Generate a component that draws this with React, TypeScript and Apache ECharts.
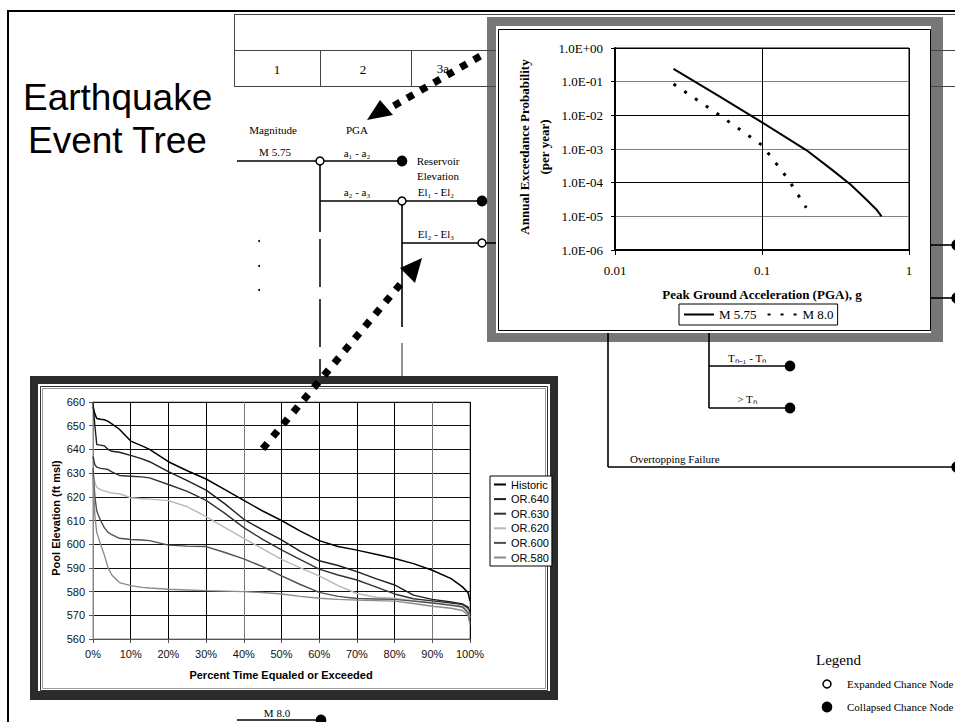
import React, { useEffect, useRef } from 'react';
import * as echarts from 'echarts';

const SERIF = '"Liberation Serif", "Times New Roman", serif';
const SANS = '"Liberation Sans", Arial, sans-serif';

// ---- Seismic hazard inset (log-log) ----
const pgaM575 = [0.025, 0.05, 0.1, 0.2, 0.3, 0.4, 0.5, 0.6, 0.65];
const aepM575 = [0.24, 0.039, 0.0062, 0.00093, 0.00024, 0.000088, 0.000035, 0.000016, 0.00001];
const pgaM80 = [0.025, 0.05, 0.1, 0.15, 0.2];
const aepM80 = [0.085, 0.011, 0.0013, 0.00013, 0.000018];
const hazardNames = ['M 5.75', 'M 8.0'];

// ---- Pool elevation duration inset ----
const pctExceeded = [0, 0.5, 1, 2, 3, 4, 5, 7, 10, 13, 15, 20, 25, 30, 35, 40, 45, 50, 55, 60, 65, 70, 75, 80, 85, 90, 95, 98, 99.5, 100];
const historic = [658, 655, 653, 652.7, 652.5, 651.8, 650.8, 648.5, 643.5, 641.5, 640, 634.8, 631, 627.5, 623, 618.5, 614, 610, 605.5, 601.5, 599, 597.5, 595.8, 594, 591.8, 589, 585.5, 582, 579.5, 576];
const or640 = [660, 650, 642, 641.8, 641.5, 640, 639.2, 638.8, 637.5, 636, 634.8, 630.6, 626.8, 622.8, 617, 610.5, 606, 601.8, 597, 593, 591, 588.4, 585.5, 582.8, 578.5, 576.7, 575.6, 574.8, 573.5, 571];
const or630 = [637, 633.5, 632.5, 632, 631.8, 631.5, 630.5, 629, 628.7, 628.4, 628, 625.2, 622.3, 618.5, 613, 607, 602, 597.6, 593.5, 589.5, 587, 584.9, 582, 579, 577, 576.1, 575.2, 574.5, 573, 570];
const or620 = [630, 626, 624, 623, 622.5, 622, 621.6, 621.3, 619.6, 619.2, 619, 618.4, 615.8, 611.6, 607, 602.5, 598, 593.6, 590, 586.6, 582.5, 579.2, 577.6, 577.2, 576.2, 575.3, 574.5, 573.8, 572, 569];
const or600 = [632, 620, 614, 610, 607, 605, 604, 602.5, 602, 601.8, 601.5, 599.6, 599.2, 599, 596.5, 593.8, 590.5, 586.6, 583, 579.7, 578, 577.1, 576.9, 576.7, 576, 575.2, 574.2, 573.5, 571, 567];
const or580 = [628, 612, 605, 600, 595.5, 590, 587, 583.8, 582.5, 581.8, 581.5, 581, 580.7, 580.4, 580.2, 580, 579.6, 579, 578, 577.2, 576.7, 576.4, 576.2, 576, 575, 573.8, 573, 572, 570, 566];
const poolNames = ['Historic', 'OR.640', 'OR.630', 'OR.620', 'OR.600', 'OR.580'];
const poolValues = [historic, or640, or630, or620, or600, or580];
const poolColors = ['#000000', '#1e1e1e', '#333333', '#b8b8b8', '#505050', '#8c8c8c'];

function ln(x1: number, y1: number, x2: number, y2: number, stroke = '#000', lineWidth = 1.6, z = 2, lineDash?: number[]) {
  return { type: 'line', z, silent: true, shape: { x1, y1, x2, y2 }, style: { stroke, lineWidth, lineDash } };
}
function node(cx: number, cy: number, filled: boolean, r?: number) {
  return {
    type: 'circle', z: 2, silent: true,
    shape: { cx, cy, r: r ?? (filled ? 4.6 : 4) },
    style: { fill: filled ? '#000' : '#fff', stroke: '#000', lineWidth: 1.5 },
  };
}
function txt(text: string, x: number, y: number, size = 11, align = 'center', family = SERIF, weight = 'normal', rotation = 0, z = 2) {
  return {
    type: 'text', z, silent: true, x, y, rotation,
    style: {
      text, fill: '#000', fontSize: size, fontFamily: family, fontWeight: weight,
      align, verticalAlign: 'middle', textAlign: align, textVerticalAlign: 'middle',
    },
  };
}
function rect(x: number, y: number, width: number, height: number, fill: string, stroke: string | null, z: number, lineWidth = 1) {
  return { type: 'rect', z, silent: true, shape: { x, y, width, height }, style: { fill, stroke: stroke ?? 'none', lineWidth } };
}
function dottedArrow(x0: number, y0: number, x1: number, y1: number, n: number, head: number[][]) {
  const els: any[] = [];
  const ang = Math.atan2(-(y1 - y0), x1 - x0);
  for (let i = 0; i < n; i++) {
    const t = i / (n - 1);
    els.push({
      type: 'rect', z: 10, silent: true,
      x: x0 + (x1 - x0) * t, y: y0 + (y1 - y0) * t, rotation: ang,
      shape: { x: -3.6, y: -3.6, width: 7.2, height: 7.2 },
      style: { fill: '#000' },
    });
  }
  els.push({ type: 'polygon', z: 10, silent: true, shape: { points: head }, style: { fill: '#000' } });
  return els;
}

function buildGraphic() {
  const g: any[] = [];
  // outer frame
  g.push(ln(7, 11, 955, 11, '#000', 2));
  g.push(ln(8, 10, 8, 722, '#000', 2));
  // table
  const tc = '#444';
  g.push(ln(234, 14.5, 955, 14.5, tc, 1));
  g.push(ln(234, 50.5, 955, 50.5, tc, 1));
  g.push(ln(234, 86.5, 955, 86.5, tc, 1));
  g.push(ln(234.5, 14, 234.5, 87, tc, 1));
  g.push(ln(320.5, 50, 320.5, 87, tc, 1));
  g.push(ln(411.5, 50, 411.5, 87, tc, 1));
  g.push(txt('1', 277, 69, 13));
  g.push(txt('2', 363, 69, 13));
  g.push(txt('3a', 443, 68, 13));
  // title
  g.push(txt('Earthquake', 23, 97, 37, 'left', SANS));
  g.push(txt('Event Tree', 28, 140, 37, 'left', SANS));
  // log inset gray band (under tree)
  g.push(rect(487, 17, 456, 325, '#777777', null, 1));
  // tree
  g.push(txt('Magnitude', 273, 130));
  g.push(txt('PGA', 357, 130));
  g.push(txt('M 5.75', 275, 152));
  g.push(ln(237, 161, 320, 161));
  g.push(ln(320, 161, 402, 161));
  g.push(txt('a₁ - a₂', 357, 153));
  g.push(txt('Reservoir', 438, 161));
  g.push(txt('Elevation', 438, 176));
  g.push(ln(320, 161, 320, 232));
  g.push(ln(320, 239, 320, 378, '#111', 1.6, 2, [48, 12]));
  g.push(ln(320, 201, 402, 201));
  g.push(txt('a₂ - a₃', 357, 192));
  g.push(ln(402, 201, 482, 201));
  g.push(txt('El₁ - El₂', 436, 192));
  g.push(ln(402, 201, 402, 327));
  g.push(ln(402, 343, 402, 380, '#777', 1.6));
  g.push(ln(402, 243, 482, 243));
  g.push(ln(486, 243, 498, 243));
  g.push(txt('El₂ - El₃', 436, 234));
  for (const dy of [241, 266, 290]) {
    g.push({ type: 'circle', z: 2, silent: true, shape: { cx: 259, cy: dy, r: 1 }, style: { fill: '#000' } });
  }
  g.push(node(320, 161, false));
  g.push(node(402, 161, true));
  g.push(node(402, 201, false));
  g.push(node(482, 201, true));
  g.push(node(482, 243, false));
  // right stubs
  g.push(ln(931, 245, 957, 245));
  g.push(ln(931, 298, 957, 298));
  g.push(node(957, 245, true, 5));
  g.push(node(957, 298, true, 5));
  // below inset
  g.push(ln(608, 330, 608, 467));
  g.push(ln(608, 467, 957, 467));
  g.push(node(957, 467, true, 5));
  g.push(txt('Overtopping Failure', 630, 459, 11, 'left'));
  g.push(ln(709, 330, 709, 408));
  g.push(ln(709, 366, 790, 366));
  g.push(ln(709, 408, 790, 408));
  g.push(node(790, 366, true));
  g.push(node(790, 408, true));
  g.push(txt('Tₙ₋₁ - Tₙ', 747, 358));
  g.push(txt('> Tₙ', 747, 399));
  // bottom branch
  g.push(txt('M 8.0', 277, 713));
  g.push(ln(237, 720, 320, 720));
  g.push(node(321, 720, true));
  // legend of tree
  g.push(txt('Legend', 816, 660, 15, 'left'));
  g.push(node(827, 684, false));
  g.push(txt('Expanded Chance Node', 847, 684, 11, 'left'));
  g.push(node(827, 707, true));
  g.push(txt('Collapsed Chance Node', 847, 707, 11, 'left'));

  // log inset white panel
  g.push(rect(496, 26, 435, 307, '#ffffff', null, 3));
  g.push(rect(498.5, 29.5, 432, 301, 'none', '#000', 3));
  g.push(txt('Annual Exceedance Probability', 524, 147, 13, 'center', SERIF, 'bold', Math.PI / 2, 3));
  g.push(txt('(per year)', 544, 147, 13, 'center', SERIF, 'bold', Math.PI / 2, 3));
  g.push(txt('Peak Ground Acceleration (PGA), g', 762, 294, 13, 'center', SERIF, 'bold', 0, 3));

  // pool inset frame
  g.push(rect(30, 376, 528, 324, '#2b2b2b', null, 3));
  g.push(rect(38, 384, 512, 307, '#ffffff', null, 3));
  g.push(rect(40.5, 386.5, 507, 304, 'none', '#333', 3));
  g.push(rect(42.5, 388.5, 503, 300, 'none', '#999', 3));
  g.push(txt('Pool Elevation (ft msl)', 56, 518, 11, 'center', SANS, 'bold', Math.PI / 2, 3));
  g.push(txt('Percent Time Equaled or Exceeded', 281, 675, 11, 'center', SANS, 'bold', 0, 3));

  // dotted arrows
  g.push(...dottedArrow(397, 104, 477, 58, 7, [[367, 120], [380, 100], [393, 115]]));
  g.push(...dottedArrow(265, 446, 398, 287, 14, [[422, 258], [400, 268], [415, 283]]));
  return g;
}

function expLabel(v: number) {
  const e = Math.round(Math.log10(v));
  return '1.0E' + (e < 0 ? '-' : '+') + String(Math.abs(e)).padStart(2, '0');
}

const hiddenSymbol = { color: 'rgba(0,0,0,0)', borderWidth: 0, borderColor: 'rgba(0,0,0,0)', opacity: 0 };

export default function App() {
  const ref = useRef<HTMLDivElement>(null);
  useEffect(() => {
    if (!ref.current) return;
    const chart = echarts.init(ref.current, undefined, { renderer: 'svg' });
    const poolSeries = poolNames.map((name, k) => ({
      type: 'line', name, xAxisIndex: 1, yAxisIndex: 1, z: 6,
      data: pctExceeded.map((p, i) => [p, poolValues[k][i]]),
      symbol: 'none', showSymbol: false,
      lineStyle: { color: poolColors[k], width: k === 0 ? 1.5 : 1.4 },
      itemStyle: { color: poolColors[k] },
    }));
    chart.setOption({
      animation: false,
      backgroundColor: '#fff',
      graphic: { elements: buildGraphic() },
      grid: [
        { left: 615, top: 48, width: 294, height: 202, show: true, borderColor: '#000', borderWidth: 1, backgroundColor: 'transparent', z: 5 },
        { left: 93, top: 402, width: 377, height: 237, show: true, borderColor: '#888', borderWidth: 1, backgroundColor: 'transparent', z: 5 },
      ],
      xAxis: [
        {
          type: 'log', logBase: 10, min: 0.01, max: 1, splitNumber: 2, gridIndex: 0, z: 5,
          axisLine: { show: true, lineStyle: { color: '#000', width: 2 } },
          axisTick: { show: true, length: 5, lineStyle: { color: '#000' } },
          minorTick: { show: false },
          axisLabel: { margin: 14, color: '#000', fontFamily: SERIF, fontSize: 13, formatter: (v: number) => String(Number(v.toPrecision(1))) },
          splitLine: { show: true, lineStyle: { color: '#000', width: 1 } },
        },
        {
          type: 'value', min: 0, max: 100, interval: 10, gridIndex: 1, z: 5,
          axisLine: { show: true, lineStyle: { color: '#555', width: 1 } },
          axisTick: { show: true, length: 4, lineStyle: { color: '#555' } },
          axisLabel: { margin: 9, color: '#111111', fontFamily: SANS, fontSize: 11, formatter: '{value}%' },
          splitLine: { show: true, lineStyle: { color: ['#000', '#000', '#000', '#000', '#777', '#000', '#000', '#000', '#000', '#777'], width: 1 } },
        },
      ],
      yAxis: [
        {
          type: 'log', logBase: 10, min: 1e-6, max: 1, splitNumber: 6, gridIndex: 0, z: 5,
          axisLine: { show: true, lineStyle: { color: '#000', width: 2 } },
          axisTick: { show: true, length: 4, lineStyle: { color: '#000' } },
          minorTick: { show: false },
          axisLabel: { margin: 12, color: '#000', fontFamily: SERIF, fontSize: 13, formatter: expLabel },
          splitLine: { show: true, lineStyle: { color: ['#000', '#808080'], width: 1 } },
        },
        {
          type: 'value', min: 560, max: 660, interval: 10, gridIndex: 1, z: 5,
          axisLine: { show: true, lineStyle: { color: '#888', width: 1 } },
          axisTick: { show: true, length: 4, lineStyle: { color: '#555' } },
          axisLabel: { margin: 8, color: '#111111', fontFamily: SANS, fontSize: 11 },
          splitLine: { show: true, lineStyle: { color: '#111', width: 1 } },
        },
      ],
      legend: [
        {
          data: hazardNames, left: 679, top: 304, orient: 'horizontal', padding: [4, 4],
          itemWidth: 30, itemHeight: 12, itemGap: 10, borderColor: '#000', borderWidth: 1,
          backgroundColor: '#fff', selectedMode: false, z: 7,
          itemStyle: hiddenSymbol,
          textStyle: { fontFamily: SERIF, fontSize: 13, color: '#000' },
        },
        {
          data: poolNames, left: 490, top: 476, orient: 'vertical', padding: [3, 3, 3, 3],
          itemWidth: 12, itemHeight: 11, itemGap: 3.6, borderColor: '#000', borderWidth: 1,
          backgroundColor: '#fff', selectedMode: false, z: 7,
          itemStyle: hiddenSymbol,
          textStyle: { fontFamily: SANS, fontSize: 11, color: '#000' },
        },
      ],
      series: [
        {
          type: 'line', name: hazardNames[0], xAxisIndex: 0, yAxisIndex: 0, z: 6,
          data: pgaM575.map((x, i) => [x, aepM575[i]]), symbol: 'none', showSymbol: false,
          lineStyle: { color: '#000', width: 2 }, itemStyle: { color: '#000' },
        },
        {
          type: 'line', name: hazardNames[1], xAxisIndex: 0, yAxisIndex: 0, z: 6,
          data: pgaM80.map((x, i) => [x, aepM80[i]]), symbol: 'none', showSymbol: false,
          lineStyle: { color: '#000', width: 3, type: [3, 10] }, itemStyle: { color: '#000' },
        },
        ...poolSeries,
      ],
    });
    return () => chart.dispose();
  }, []);
  return <div ref={ref} style={{ position: 'fixed', left: 0, top: 0, width: 955, height: 722 }} />;
}
